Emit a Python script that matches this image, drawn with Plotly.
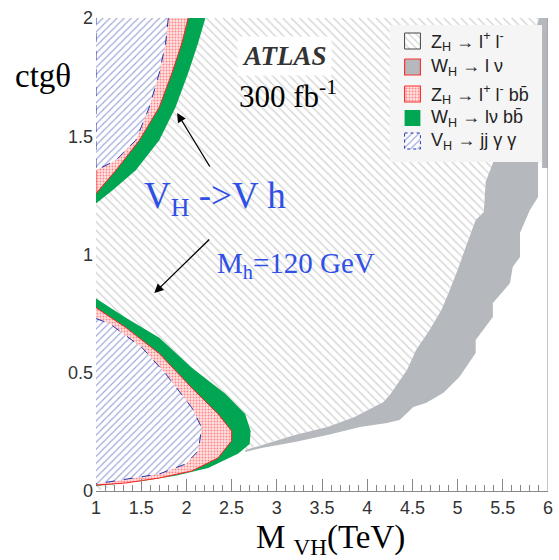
import plotly.graph_objects as go

# ---------------- data ----------------
# W_H -> l nu band (gray): left edge bottom->top, right edge top->bottom
gray_left_x = [2.65, 2.83, 3.20, 3.56, 3.86, 4.18, 4.25, 4.44, 4.54, 4.69, 4.82, 4.90,
               5.00, 5.09, 5.20, 5.29, 5.31, 5.39, 5.55, 5.75, 5.90]
gray_left_y = [0.173, 0.195, 0.237, 0.271, 0.313, 0.376, 0.406, 0.512, 0.596, 0.681,
               0.765, 0.837, 0.934, 1.032, 1.146, 1.180, 1.307, 1.387, 1.60, 1.80, 2.00]
gray_right_x = [6.0, 6.0, 5.89, 5.89, 5.80, 5.69, 5.69, 5.61, 5.58, 5.39, 5.39, 5.20,
                5.20, 5.02, 4.84, 4.65, 4.51, 4.36, 4.22, 3.92, 3.56, 3.20, 2.83, 2.65]
gray_right_y = [2.0, 1.45, 1.387, 1.243, 1.188, 1.091, 0.989, 0.947, 0.879, 0.795,
                0.736, 0.638, 0.583, 0.482, 0.414, 0.372, 0.355, 0.300, 0.288, 0.271,
                0.237, 0.207, 0.182, 0.165]

# lower-left region
green_lo_x = [1.0, 1.33, 1.70, 2.06, 2.43, 2.65, 2.71, 2.70, 2.57, 2.24, 1.88, 1.51, 1.0]
green_lo_y = [0.814, 0.733, 0.648, 0.521, 0.411, 0.326, 0.254, 0.199, 0.157, 0.097,
              0.064, 0.042, 0.021]
red_lo_x = [1.0, 1.33, 1.70, 2.06, 2.35, 2.50, 2.50, 2.35, 2.06, 1.70, 1.33, 1.0]
red_lo_y = [0.775, 0.691, 0.581, 0.436, 0.326, 0.254, 0.212, 0.140, 0.085, 0.055,
            0.034, 0.025]
blue_lo_x = [1.0, 1.15, 1.51, 1.77, 2.06, 2.17, 2.13, 1.99, 1.70, 1.33, 1.0]
blue_lo_y = [0.729, 0.708, 0.606, 0.496, 0.352, 0.267, 0.169, 0.114, 0.072, 0.051, 0.030]

# upper-left region
green_up_x = [2.21, 2.13, 2.02, 1.88, 1.70, 1.44, 1.18, 1.0]
green_up_y = [2.0, 1.894, 1.767, 1.623, 1.483, 1.356, 1.271, 1.216]
red_up_x = [2.02, 1.95, 1.84, 1.70, 1.48, 1.22, 1.0]
red_up_y = [2.0, 1.894, 1.767, 1.623, 1.483, 1.356, 1.258]
blue_up_x = [1.80, 1.77, 1.70, 1.59, 1.44, 1.22, 1.0]
blue_up_y = [2.0, 1.894, 1.767, 1.623, 1.483, 1.398, 1.356]

x_ticks = [1, 1.5, 2, 2.5, 3, 3.5, 4, 4.5, 5, 5.5, 6]
x_tick_labels = ["1", "1.5", "2", "2.5", "3", "3.5", "4", "4.5", "5", "5.5", "6"]
y_ticks = [0, 0.5, 1, 1.5, 2]
y_tick_labels = ["0", "0.5", "1", "1.5", "2"]

legend_labels = [
    "Z<sub>H</sub> → l<sup>+</sup> l<sup>-</sup>",
    "W<sub>H</sub> → l ν",
    "Z<sub>H</sub> → l<sup>+</sup> l<sup>-</sup> bb̄",
    "W<sub>H</sub> → lν bb̄",
    "V<sub>H</sub> → jj γ γ",
]

# ---------------- styles ----------------
HATCH = dict(shape="\\", fgcolor="#b0b0b0", bgcolor="white", size=6, solidity=0.25)
GRAY = "#b5b9be"
GREEN = "#00a651"
RED_PAT = dict(shape=".", fgcolor="#ff2a2a", bgcolor="#ffe2e2", size=3, solidity=0.35)
BLUE_PAT = dict(shape="/", fgcolor="#3a4bb5", bgcolor="white", size=5, solidity=0.22)
BLUE_TXT = "#2f50e6"
SERIF = "Liberation Serif"
SANS = "Liberation Sans"

# plot-area pixel geometry (for placing free text)
PX0, PX1, PY0, PY1 = 96, 553, 18, 491

def px(x):
    return (x - PX0) / (PX1 - PX0)

def py(y):
    return (PY1 - y) / (PY1 - PY0)

fig = go.Figure()

def poly(x, y, **kw):
    fig.add_trace(go.Scatter(x=x, y=y, mode="lines", fill="toself",
                             showlegend=False, hoverinfo="skip", **kw))

# Z_H -> l+l- (hatched) region
hatch_x = [1.0] + gray_left_x[::-1] + [1.0]
hatch_y = [2.0] + gray_left_y[::-1] + [0.0]
poly(hatch_x, hatch_y, line=dict(width=0), fillpattern=HATCH, fillcolor="white")

# W_H -> l nu band
poly(gray_left_x + gray_right_x, gray_left_y + gray_right_y,
     line=dict(width=0), fillcolor=GRAY)

# lower region
poly(green_lo_x, green_lo_y, line=dict(width=0), fillcolor=GREEN)
poly(red_lo_x, red_lo_y, line=dict(width=1, color="#ff2020"),
     fillpattern=RED_PAT, fillcolor="#ffe2e2")
poly(blue_lo_x, blue_lo_y, line=dict(width=1, color="#2233aa", dash="dash"),
     fillpattern=BLUE_PAT, fillcolor="white")

# upper region
poly(green_up_x + [1.0], green_up_y + [2.0], line=dict(width=0), fillcolor=GREEN)
poly(red_up_x + [1.0], red_up_y + [2.0], line=dict(width=1, color="#ff2020"),
     fillpattern=RED_PAT, fillcolor="#ffe2e2")
poly(blue_up_x + [1.0], blue_up_y + [2.0], line=dict(width=1, color="#2233aa", dash="dash"),
     fillpattern=BLUE_PAT, fillcolor="white")

# ---------------- legend box drawn in pixel-space overlay axes ----------------
def ppoly(x, y, **kw):
    fig.add_trace(go.Scatter(x=x, y=y, xaxis="x2", yaxis="y2", mode="lines",
                             fill="toself", showlegend=False, hoverinfo="skip", **kw))

lx0, lx1, ly0, ly1 = 393, 547, 25, 162
ppoly([lx1, lx1 + 6, lx1 + 6, lx1, lx1], [ly0 + 6, ly0 + 6, ly1 + 6, ly1 + 6, ly0 + 6],
      line=dict(width=0), fillcolor="#b3b7bc")
ppoly([lx0, lx1, lx1, lx0, lx0], [ly0, ly0, ly1, ly1, ly0],
      line=dict(width=0), fillcolor="#f5f5f5")

sym_cy = [41, 67, 94, 118, 141]
sym_styles = [
    dict(line=dict(width=1, color="#444"), fillpattern=dict(shape="\\", fgcolor="#aaa", bgcolor="white", size=5, solidity=0.25), fillcolor="white"),
    dict(line=dict(width=1.2, color="#ff3030"), fillcolor=GRAY),
    dict(line=dict(width=1.2, color="#ff3030"), fillpattern=dict(shape=".", fgcolor="#ff2a2a", bgcolor="#ffe2e2", size=3, solidity=0.35), fillcolor="#ffd9d9"),
    dict(line=dict(width=0), fillcolor=GREEN),
    dict(line=dict(width=1, color="#2233aa", dash="dot"), fillpattern=dict(shape="/", fgcolor="#4455bb", bgcolor="white", size=5, solidity=0.25), fillcolor="white"),
]
sx0, sx1, half = 408, 424, 8
for cy, st, lab in zip(sym_cy, sym_styles, legend_labels):
    ppoly([sx0, sx1, sx1, sx0, sx0], [cy - half, cy - half, cy + half, cy + half, cy - half], **st)
    fig.add_annotation(x=433, y=cy, xref="x2", yref="y2", text=lab, showarrow=False,
                       xanchor="left", yanchor="middle",
                       font=dict(family=SANS, size=18, color="#222"))

# ---------------- text ----------------
fig.add_annotation(x=287, y=56, xref="x2", yref="y2", text="<b><i>ATLAS</i></b>",
                   showarrow=False, bgcolor="white", borderpad=4,
                   xanchor="center", yanchor="middle",
                   font=dict(family=SERIF, size=27, color="#333"))
fig.add_annotation(x=290, y=94, xref="x2", yref="y2", text="300 fb<sup>-1</sup>",
                   showarrow=False, xanchor="center", yanchor="middle",
                   font=dict(family=SERIF, size=31, color="black"))
fig.add_annotation(x=216, y=198, xref="x2", yref="y2", text="V<sub>H</sub> ->V h",
                   showarrow=False, xanchor="center", yanchor="middle",
                   font=dict(family=SERIF, size=37, color=BLUE_TXT))
fig.add_annotation(x=298, y=265, xref="x2", yref="y2", text="M<sub>h</sub>=120 GeV",
                   showarrow=False, xanchor="center", yanchor="middle",
                   font=dict(family=SERIF, size=29, color=BLUE_TXT))
fig.add_annotation(x=178, y=113, xref="x2", yref="y2", ax=212, ay=168,
                   axref="x2", ayref="y2", text="", showarrow=True,
                   arrowhead=2, arrowsize=1.4, arrowwidth=1.3, arrowcolor="black")
fig.add_annotation(x=155, y=293, xref="x2", yref="y2", ax=212, ay=238,
                   axref="x2", ayref="y2", text="", showarrow=True,
                   arrowhead=2, arrowsize=1.4, arrowwidth=1.3, arrowcolor="black")
fig.add_annotation(x=px(42), y=py(76), xref="paper", yref="paper", text="ctgθ",
                   showarrow=False, xanchor="center", yanchor="middle",
                   font=dict(family=SERIF, size=33, color="black"))
fig.add_annotation(x=px(333), y=py(539), xref="paper", yref="paper",
                   text="M <sub>VH</sub>(TeV)", showarrow=False,
                   xanchor="center", yanchor="middle",
                   font=dict(family=SERIF, size=33, color="black"))

# right frame line
fig.add_shape(type="line", xref="x", yref="paper", x0=6, x1=6, y0=0, y1=1,
              line=dict(color="#a0a0a0", width=1.2))

fig.update_layout(
    width=559, height=560,
    margin=dict(l=PX0, r=559 - PX1, t=PY0, b=560 - PY1),
    paper_bgcolor="white", plot_bgcolor="white",
    showlegend=False,
    xaxis=dict(range=[1, 6], tickvals=x_ticks, ticktext=x_tick_labels,
               ticks="inside", ticklen=12, tickcolor="#888", tickwidth=1,
               minor=dict(dtick=0.1, tick0=1, ticks="inside", ticklen=6, tickcolor="#888"),
               showline=True, linecolor="#888", linewidth=1.2, showgrid=False,
               zeroline=False, ticklabelstandoff=0,
               tickfont=dict(family=SANS, size=18, color="#333")),
    yaxis=dict(range=[0, 2], tickvals=y_ticks, ticktext=y_tick_labels,
               ticks="", showline=False, showgrid=False, zeroline=False,
               ticklabelstandoff=2,
               tickfont=dict(family=SANS, size=18, color="#333")),
    xaxis2=dict(overlaying="x", range=[PX0, PX1], visible=False, fixedrange=True),
    yaxis2=dict(overlaying="y", range=[PY1, PY0], visible=False, fixedrange=True),
)

fig.write_html("out.html")
